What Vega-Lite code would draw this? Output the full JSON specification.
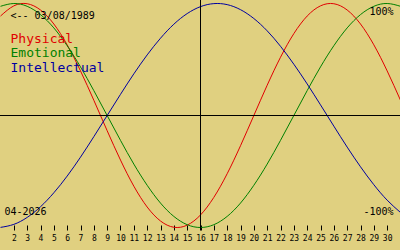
{
  "$schema": "https://vega.github.io/schema/vega-lite/v6.json",
  "width": 400,
  "height": 250,
  "autosize": "none",
  "padding": 0,
  "background": "#e0d080",
  "config": {
    "view": {"stroke": null},
    "font": "DejaVu Sans Mono",
    "axisX": {"labelOverlap": false, "labelFlush": false, "labelBound": false, "labelFontSize": 8, "labelColor": "#000000", "labelFont": "DejaVu Sans Mono", "labelPadding": 4, "domain": false, "grid": false, "tickSize": 5, "tickColor": "#000000", "tickWidth": 1, "offset": -25, "title": null, "tickCount": 100, "format": "d"}
  },
  "datasets": {
    "bio": [
      {"day":1,"series":"Physical","value":0.888},{"day":2,"series":"Physical","value":0.979},{"day":3,"series":"Physical","value":0.998},{"day":4,"series":"Physical","value":0.942},{"day":5,"series":"Physical","value":0.817},{"day":6,"series":"Physical","value":0.631},{"day":7,"series":"Physical","value":0.398},{"day":8,"series":"Physical","value":0.136},{"day":9,"series":"Physical","value":-0.136},{"day":10,"series":"Physical","value":-0.398},{"day":11,"series":"Physical","value":-0.631},{"day":12,"series":"Physical","value":-0.817},{"day":13,"series":"Physical","value":-0.942},{"day":14,"series":"Physical","value":-0.998},{"day":15,"series":"Physical","value":-0.979},{"day":16,"series":"Physical","value":-0.888},{"day":17,"series":"Physical","value":-0.731},{"day":18,"series":"Physical","value":-0.520},{"day":19,"series":"Physical","value":-0.270},{"day":20,"series":"Physical","value":0},{"day":21,"series":"Physical","value":0.270},{"day":22,"series":"Physical","value":0.520},{"day":23,"series":"Physical","value":0.731},{"day":24,"series":"Physical","value":0.888},{"day":25,"series":"Physical","value":0.979},{"day":26,"series":"Physical","value":0.998},{"day":27,"series":"Physical","value":0.942},{"day":28,"series":"Physical","value":0.817},{"day":29,"series":"Physical","value":0.631},{"day":30,"series":"Physical","value":0.398},{"day":31,"series":"Physical","value":0.136},
      {"day":1,"series":"Emotional","value":0.975},{"day":2,"series":"Emotional","value":1},{"day":3,"series":"Emotional","value":0.975},{"day":4,"series":"Emotional","value":0.901},{"day":5,"series":"Emotional","value":0.782},{"day":6,"series":"Emotional","value":0.623},{"day":7,"series":"Emotional","value":0.434},{"day":8,"series":"Emotional","value":0.222},{"day":9,"series":"Emotional","value":0},{"day":10,"series":"Emotional","value":-0.222},{"day":11,"series":"Emotional","value":-0.434},{"day":12,"series":"Emotional","value":-0.623},{"day":13,"series":"Emotional","value":-0.782},{"day":14,"series":"Emotional","value":-0.901},{"day":15,"series":"Emotional","value":-0.975},{"day":16,"series":"Emotional","value":-1},{"day":17,"series":"Emotional","value":-0.975},{"day":18,"series":"Emotional","value":-0.901},{"day":19,"series":"Emotional","value":-0.782},{"day":20,"series":"Emotional","value":-0.623},{"day":21,"series":"Emotional","value":-0.434},{"day":22,"series":"Emotional","value":-0.222},{"day":23,"series":"Emotional","value":0},{"day":24,"series":"Emotional","value":0.222},{"day":25,"series":"Emotional","value":0.434},{"day":26,"series":"Emotional","value":0.623},{"day":27,"series":"Emotional","value":0.782},{"day":28,"series":"Emotional","value":0.901},{"day":29,"series":"Emotional","value":0.975},{"day":30,"series":"Emotional","value":1},{"day":31,"series":"Emotional","value":0.975},
      {"day":1,"series":"Intellectual","value":-0.999},{"day":2,"series":"Intellectual","value":-0.972},{"day":3,"series":"Intellectual","value":-0.910},{"day":4,"series":"Intellectual","value":-0.815},{"day":5,"series":"Intellectual","value":-0.690},{"day":6,"series":"Intellectual","value":-0.541},{"day":7,"series":"Intellectual","value":-0.372},{"day":8,"series":"Intellectual","value":-0.189},{"day":9,"series":"Intellectual","value":0},{"day":10,"series":"Intellectual","value":0.189},{"day":11,"series":"Intellectual","value":0.372},{"day":12,"series":"Intellectual","value":0.541},{"day":13,"series":"Intellectual","value":0.690},{"day":14,"series":"Intellectual","value":0.815},{"day":15,"series":"Intellectual","value":0.910},{"day":16,"series":"Intellectual","value":0.972},{"day":17,"series":"Intellectual","value":0.999},{"day":18,"series":"Intellectual","value":0.990},{"day":19,"series":"Intellectual","value":0.945},{"day":20,"series":"Intellectual","value":0.866},{"day":21,"series":"Intellectual","value":0.756},{"day":22,"series":"Intellectual","value":0.618},{"day":23,"series":"Intellectual","value":0.458},{"day":24,"series":"Intellectual","value":0.282},{"day":25,"series":"Intellectual","value":0.095},{"day":26,"series":"Intellectual","value":-0.095},{"day":27,"series":"Intellectual","value":-0.282},{"day":28,"series":"Intellectual","value":-0.458},{"day":29,"series":"Intellectual","value":-0.618},{"day":30,"series":"Intellectual","value":-0.756},{"day":31,"series":"Intellectual","value":-0.866}
    ],
    "one": [{}]
  },
  "layer": [
    {
      "data": {"name": "bio"},
      "mark": {"type": "line", "strokeWidth": 1, "interpolate": "natural"},
      "encoding": {
        "x": {"field": "day", "type": "quantitative",
              "scale": {"domain": [0.9625, 30.9625], "nice": false, "zero": false},
              "axis": {"values": [2,3,4,5,6,7,8,9,10,11,12,13,14,15,16,17,18,19,20,21,22,23,24,25,26,27,28,29,30], "labelOverlap": false, "tickCount": 100, "format": "d"}},
        "y": {"field": "value", "type": "quantitative", "scale": {"domain": [-1.20089, 1.03125], "nice": false, "zero": false}, "axis": null},
        "color": {"field": "series", "type": "nominal",
                  "scale": {"domain": ["Physical", "Emotional", "Intellectual"], "range": ["#e00000", "#008000", "#0000a0"]},
                  "legend": null}
      }
    },
    {
      "data": {"name": "one"},
      "mark": {"type": "rule", "color": "#000000", "strokeWidth": 1},
      "encoding": {"y": {"datum": 0, "type": "quantitative"}}
    },
    {
      "data": {"name": "one"},
      "mark": {"type": "rule", "color": "#000000", "strokeWidth": 1},
      "encoding": {
        "x": {"datum": 16, "type": "quantitative"},
        "y": {"datum": 1.03125, "type": "quantitative"},
        "y2": {"datum": -1.027}
      }
    },
    {
      "data": {"name": "one"},
      "mark": {"type": "text", "align": "left", "baseline": "middle", "fontSize": 10, "color": "#000000", "font": "DejaVu Sans Mono"},
      "encoding": {"x": {"datum": 1.75, "type": "quantitative"}, "y": {"datum": 0.884, "type": "quantitative"}, "text": {"value": "<-- 03/08/1989"}}
    },
    {
      "data": {"name": "one"},
      "mark": {"type": "text", "align": "left", "baseline": "middle", "fontSize": 13, "color": "#e00000", "font": "DejaVu Sans Mono"},
      "encoding": {"x": {"datum": 1.75, "type": "quantitative"}, "y": {"datum": 0.6875, "type": "quantitative"}, "text": {"value": "Physical"}}
    },
    {
      "data": {"name": "one"},
      "mark": {"type": "text", "align": "left", "baseline": "middle", "fontSize": 13, "color": "#008000", "font": "DejaVu Sans Mono"},
      "encoding": {"x": {"datum": 1.75, "type": "quantitative"}, "y": {"datum": 0.554, "type": "quantitative"}, "text": {"value": "Emotional"}}
    },
    {
      "data": {"name": "one"},
      "mark": {"type": "text", "align": "left", "baseline": "middle", "fontSize": 13, "color": "#0000a0", "font": "DejaVu Sans Mono"},
      "encoding": {"x": {"datum": 1.75, "type": "quantitative"}, "y": {"datum": 0.42, "type": "quantitative"}, "text": {"value": "Intellectual"}}
    },
    {
      "data": {"name": "one"},
      "mark": {"type": "text", "align": "right", "baseline": "middle", "fontSize": 10, "color": "#000000", "font": "DejaVu Sans Mono"},
      "encoding": {"x": {"datum": 30.475, "type": "quantitative"}, "y": {"datum": 0.92, "type": "quantitative"}, "text": {"value": "100%"}}
    },
    {
      "data": {"name": "one"},
      "mark": {"type": "text", "align": "right", "baseline": "middle", "fontSize": 10, "color": "#000000", "font": "DejaVu Sans Mono"},
      "encoding": {"x": {"datum": 30.475, "type": "quantitative"}, "y": {"datum": -0.866, "type": "quantitative"}, "text": {"value": "-100%"}}
    },
    {
      "data": {"name": "one"},
      "mark": {"type": "text", "align": "left", "baseline": "middle", "fontSize": 10, "color": "#000000", "font": "DejaVu Sans Mono"},
      "encoding": {"x": {"datum": 1.3, "type": "quantitative"}, "y": {"datum": -0.866, "type": "quantitative"}, "text": {"value": "04-2026"}}
    }
  ]
}
